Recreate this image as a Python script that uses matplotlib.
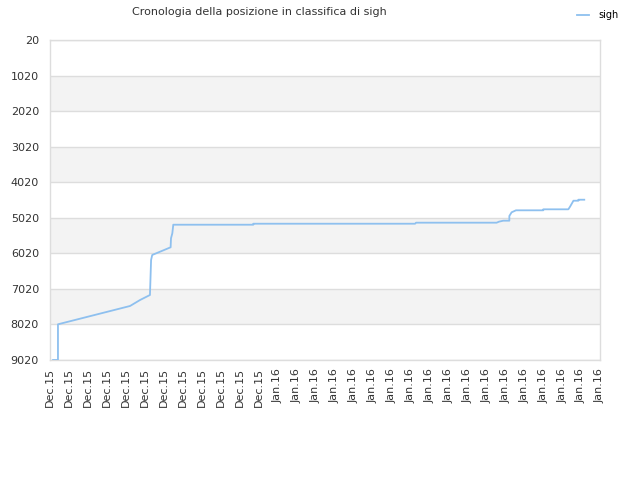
import matplotlib
matplotlib.use("Agg")
import matplotlib.pyplot as plt

# data (x in tick-index units, rank values)
x_vals = [0.16, 0.42, 0.42, 4.22, 4.75, 5.27, 5.33, 5.39, 6.36, 6.38, 6.45, 6.50,
          10.72, 10.72, 19.25, 19.30, 23.55, 23.67, 23.90, 24.22, 24.22, 24.34, 24.57,
          26.01, 26.01, 27.33, 27.42, 27.60, 27.86, 27.86, 28.17]
rank_vals = [9020, 9020, 8016, 7501, 7332, 7192, 6207, 6066, 5850, 5597, 5456, 5215,
             5215, 5187, 5187, 5158, 5158, 5130, 5102, 5102, 4970, 4866, 4810,
             4810, 4782, 4782, 4708, 4540, 4540, 4512, 4512]
x_labels = ["Dec.15"] * 12 + ["Jan.16"] * 18
y_ticks = [20, 1020, 2020, 3020, 4020, 5020, 6020, 7020, 8020, 9020]
series_name = "sigh"
title = "Cronologia della posizione in classifica di sigh"

fig = plt.figure(figsize=(6.4, 4.8), dpi=100)
ax = fig.add_axes([50/640, 1-360/480, 550/640, 320/480])

# alternating bands
for i in range(len(y_ticks) - 1):
    if i % 2 == 1:
        ax.axhspan(y_ticks[i], y_ticks[i+1], color="#f3f3f3", zorder=0, lw=0)
for t in y_ticks:
    ax.axhline(t, color="#dddddd", lw=1, zorder=1)

line, = ax.plot(x_vals, rank_vals, color="#8ec0ef", lw=1.3, zorder=3)

ax.set_xlim(0, len(x_labels) - 1)
ax.set_ylim(9020, 20)
ax.set_yticks(y_ticks)
ax.set_yticklabels([str(t) for t in y_ticks])
ax.set_xticks(range(len(x_labels)))
ax.set_xticklabels(x_labels, rotation=90)
ax.tick_params(axis="both", length=0, labelsize=8, colors="#333333")
ax.tick_params(axis="y", pad=8)
ax.tick_params(axis="x", pad=6)
for s in ax.spines.values():
    s.set_color("#dddddd")
    s.set_linewidth(1)

fig.text(259.5/640, 1-12/480, title, ha="center", va="center", fontsize=8, color="#333333")
fig.legend([line], [series_name], loc="center", bbox_to_anchor=(598/640, 1-15/480),
           frameon=False, fontsize=7, handlelength=1.2, handletextpad=1.0)

fig.savefig("out.png", dpi=100)
